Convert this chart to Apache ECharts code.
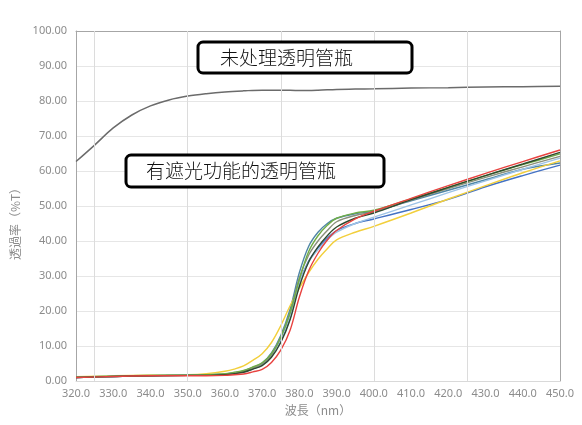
<!DOCTYPE html>
<html>
<head>
<meta charset="utf-8">
<script src="https://cdn.jsdelivr.net/npm/echarts@6/dist/echarts.min.js"></script>
<style>
  html, body { margin: 0; padding: 0; background: #fff; }
  #main { width: 582px; height: 425px; }
</style>
</head>
<body>
<div id="main"></div>
<script>
// 波長（nm）
var wavelengths = [320, 330, 340, 350, 355, 360, 362.5, 365, 367.5, 370, 372.5, 375, 377.5, 380, 382.5, 385, 387.5, 390, 395, 400, 410, 420, 430, 440, 450];

// 有遮光功能的透明管瓶 (8本)
var redT       = [1.0, 1.3, 1.5, 1.5, 1.5, 1.6, 1.8, 2.0, 2.6, 3.3, 5.3, 8.8, 14.5, 24.0, 31.5, 36.5, 40.3, 43.0, 46.3, 48.5, 52.2, 55.8, 59.3, 62.7, 66.0];
var darkGreenT = [1.0, 1.3, 1.5, 1.6, 1.6, 1.8, 2.1, 2.5, 3.4, 4.4, 6.8, 11.0, 17.5, 27.0, 34.0, 38.3, 41.5, 44.0, 46.5, 48.0, 51.8, 55.3, 58.7, 62.0, 65.3];
var greenT     = [1.1, 1.4, 1.6, 1.7, 1.8, 2.1, 2.5, 3.0, 4.0, 5.2, 7.8, 12.5, 19.5, 29.0, 37.0, 41.5, 44.5, 46.5, 48.0, 48.8, 52.0, 55.3, 58.7, 61.8, 64.9];
var grayT      = [1.0, 1.3, 1.5, 1.6, 1.7, 1.9, 2.2, 2.7, 3.7, 4.9, 7.5, 12.5, 19.5, 29.5, 36.0, 40.0, 43.0, 45.5, 47.3, 48.3, 51.7, 55.0, 58.2, 61.2, 64.2];
var lightBlueT = [1.1, 1.4, 1.6, 1.7, 1.7, 2.0, 2.3, 2.7, 3.6, 4.8, 7.3, 11.8, 18.5, 28.0, 34.0, 37.5, 40.3, 42.5, 45.0, 46.8, 50.3, 53.8, 57.2, 60.5, 63.7];
var yellowT    = [1.2, 1.5, 1.7, 1.8, 2.1, 2.8, 3.4, 4.3, 5.9, 7.8, 11.0, 15.8, 21.5, 26.5, 31.0, 34.8, 37.8, 40.3, 42.5, 44.2, 48.0, 52.0, 55.8, 59.5, 62.9];
var tealT      = [1.0, 1.3, 1.5, 1.6, 1.7, 2.0, 2.4, 2.9, 3.9, 5.1, 8.0, 13.0, 20.5, 31.0, 38.5, 42.5, 45.0, 46.5, 47.8, 48.5, 51.5, 54.5, 57.5, 60.5, 62.3];
var blueT      = [1.0, 1.3, 1.5, 1.6, 1.6, 1.9, 2.2, 2.6, 3.5, 4.6, 7.2, 11.5, 18.0, 28.0, 34.3, 38.0, 40.8, 43.0, 45.0, 46.3, 49.0, 51.9, 55.5, 58.7, 61.7];

// 未处理透明管瓶
var plainWl = [320, 325, 330, 335, 340, 345, 350, 355, 360, 365, 370, 375, 380, 385, 390, 395, 400, 410, 420, 430, 440, 450];
var plainT  = [62.7, 67.4, 72.3, 76.0, 78.6, 80.3, 81.4, 82.1, 82.6, 82.9, 83.1, 83.1, 83.0, 83.1, 83.3, 83.4, 83.5, 83.7, 83.8, 84.0, 84.1, 84.2];

// 縦グリッド線の位置
var vGrid = [325, 350, 375, 400, 425];

var coated = [
    { values: blueT,      color: '#4472c4' },
    { values: tealT,      color: '#4f86a6' },
    { values: yellowT,    color: '#f2cf3c' },
    { values: lightBlueT, color: '#9dc3e6' },
    { values: grayT,      color: '#8a8f7a' },
    { values: greenT,     color: '#70ad47' },
    { values: darkGreenT, color: '#2f4a2f' },
    { values: redT,       color: '#e8423f' }
];

function pairs(xs, ys) {
    return xs.map(function (x, i) { return [x, ys[i]]; });
}

var labelColor = '#8c8c8c';
var boxFont = '"Noto Sans CJK SC", serif';

var series = coated.map(function (c) {
    return {
        type: 'line',
        data: pairs(wavelengths, c.values),
        smooth: 0.35,
        showSymbol: false,
        lineStyle: { color: c.color, width: 1.4 },
        silent: true
    };
});

series.unshift({
    type: 'line',
    data: pairs(plainWl, plainT),
    smooth: 0.35,
    showSymbol: false,
    lineStyle: { color: '#6b6b6b', width: 1.5 },
    silent: true,
    markLine: {
        silent: true,
        symbol: 'none',
        label: { show: false },
        lineStyle: { color: '#dcdcdc', width: 1, type: 'solid' },
        data: vGrid.map(function (v) { return { xAxis: v }; })
    }
});

var myChart = echarts.init(document.getElementById('main'));

var option = {
    animation: false,
    grid: { left: 76, right: 22, top: 31, bottom: 44 },
    xAxis: [{
        type: 'value',
        min: 320,
        max: 450,
        interval: 10,
        name: '波長（nm）',
        nameLocation: 'middle',
        nameGap: 23,
        nameTextStyle: { color: labelColor, fontSize: 12, fontFamily: '"Noto Sans CJK JP"' },
        axisLine: { onZero: false, lineStyle: { color: '#d9d9d9' } },
        axisTick: { show: false },
        splitLine: { show: false },
        axisLabel: {
            color: labelColor,
            fontSize: 11,
            fontFamily: '"Noto Sans"',
            margin: 7,
            formatter: function (v) { return v.toFixed(1); }
        }
    }, {
        type: 'value',
        position: 'top',
        min: 320,
        max: 450,
        axisLine: { onZero: false, lineStyle: { color: '#a6a6a6' } },
        axisTick: { show: false },
        axisLabel: { show: false },
        splitLine: { show: false }
    }],
    yAxis: [{
        type: 'value',
        min: 0,
        max: 100,
        interval: 10,
        name: '透過率（%T）',
        nameLocation: 'middle',
        nameGap: 54,
        nameTextStyle: { color: labelColor, fontSize: 12, fontFamily: '"Noto Sans CJK JP"', padding: [0, 30, 0, 0] },
        axisLine: { show: true, onZero: false, lineStyle: { color: '#a6a6a6' } },
        axisTick: { show: false },
        splitLine: { lineStyle: { color: '#e6e6e6' } },
        axisLabel: {
            color: labelColor,
            fontSize: 11,
            fontFamily: '"Noto Sans"',
            margin: 9,
            formatter: function (v) { return v.toFixed(2); }
        }
    }, {
        type: 'value',
        position: 'right',
        min: 0,
        max: 100,
        axisLine: { show: true, onZero: false, lineStyle: { color: '#a6a6a6' } },
        axisTick: { show: false },
        axisLabel: { show: false },
        splitLine: { show: false }
    }],
    graphic: [{
        type: 'rect',
        shape: { x: 198, y: 42, width: 214, height: 31, r: 5 },
        style: { fill: '#fff', stroke: '#000', lineWidth: 3 },
        z: 100
    }, {
        type: 'text',
        x: 220,
        y: 58,
        style: { text: '未处理透明管瓶', fill: '#111', font: '300 19px ' + boxFont, textVerticalAlign: 'middle' },
        z: 101
    }, {
        type: 'rect',
        shape: { x: 126, y: 155, width: 258, height: 32, r: 5 },
        style: { fill: '#fff', stroke: '#000', lineWidth: 3 },
        z: 100
    }, {
        type: 'text',
        x: 146,
        y: 171,
        style: { text: '有遮光功能的透明管瓶', fill: '#111', font: '300 19px ' + boxFont, textVerticalAlign: 'middle' },
        z: 101
    }],
    series: series
};

myChart.setOption(option);
</script>
</body>
</html>
